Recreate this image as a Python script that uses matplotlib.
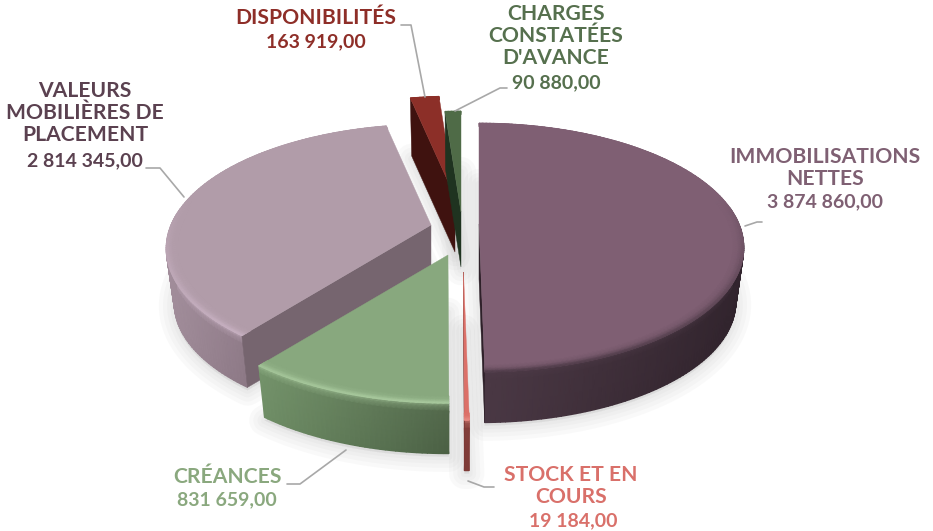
import numpy as np
import matplotlib
matplotlib.use("Agg")
import matplotlib.pyplot as plt
from matplotlib.colors import to_rgb

# data, clockwise from the top
labels = ["IMMOBILISATIONS\nNETTES", "STOCK ET EN\nCOURS", "CRÉANCES",
          "VALEURS\nMOBILIÈRES DE\nPLACEMENT", "DISPONIBILITÉS",
          "CHARGES\nCONSTATÉES\nD'AVANCE"]
values = [3874860.0, 19184.0, 831659.0, 2814345.0, 163919.0, 90880.0]

# styles per slice
top_col = ["#7f5f73", "#dc7068", "#88a87e", "#b19ca9", "#8c2f28", "#4f6b47"]
side_l = ["#4a3844", "#7d3a36", "#6f8e66", "#a08c99", "#6a231e", "#3b5236"]
side_r = ["#30232c", "#7d3a36", "#4b6044", "#8c7885", "#6a231e", "#3b5236"]
cut_col = ["#2e2029", "#7d3a36", "#5a7552", "#76656f", "#3f120f", "#1f3320"]
bevel_col = ["#4e3b48", "#e88c84", "#aacb9f", "#cdb6c8", "#a03a32", "#607f56"]
text_col = ["#7f6073", "#d9706a", "#8aa87e", "#5b4150", "#8e2e28", "#56704e"]
off_x = [24, 8.5, -7, -24, 0, 6]
off_y = [0, 48, 31, 1, -27, -12]
text_x = [825, 571, 228, 85, 316, 556]
text_y = [168, 486, 477, 113, 18, 36]
num_x = [825, 573, 227, 85, 316, 556]
num_y = [202, 521, 500, 161, 42, 83]

cx, cy = 455, 224
rx, ry = 260, 120
persp = 0.19
depth = 55
bottom_scale = 0.97


def project(theta, r, ox, oy, scale=1.0, dz=0.0):
    px = r * np.sin(theta)
    py = r * np.cos(theta)
    s = 1.0 / (1.0 + persp * py)
    return cx + ox + rx * px * s * scale, cy + oy - ry * py * s * scale + dz


def mix(a, b, t):
    a = np.array(to_rgb(a))
    b = np.array(to_rgb(b))
    return a + (b - a) * t


fig = plt.figure(figsize=(9.33, 5.31), dpi=100)
ax = fig.add_axes([0, 0, 1, 1])
ax.set_xlim(0, 933)
ax.set_ylim(531, 0)
ax.axis("off")

ang = np.cumsum([0] + values) / sum(values) * 2 * np.pi
draw_order = [4, 5, 3, 0, 2, 1]

# soft shadow under every slice
for i in draw_order:
    t = np.linspace(ang[i], ang[i + 1], 80)
    x, y = project(t, 1.0, off_x[i], off_y[i], bottom_scale, depth)
    x = np.r_[cx + off_x[i], x]
    y = np.r_[cy + off_y[i] + depth, y]
    for lw in (22, 16, 10, 5):
        ax.fill(x, y + 3, fc="#9a9a9a", ec="#8a8a8a", lw=lw, alpha=0.045, joinstyle="round")

for i in draw_order:
    a0, a1 = ang[i], ang[i + 1]
    ox, oy = off_x[i], off_y[i]
    t = np.linspace(a0, a1, max(6, int((a1 - a0) * 60)))

    # outer wall, only the part that faces the viewer
    wall = t[np.cos(t) < 0.15]
    if len(wall) > 1:
        x0 = project(wall, 1.0, ox, oy)[0]
        frac = np.array([0.0, 0.06, 0.16, 1.0])
        X = np.zeros((len(frac), len(wall)))
        Y = np.zeros_like(X)
        C = np.zeros((len(frac), len(wall), 3))
        for j, f in enumerate(frac):
            xt, yt = project(wall, 1.0, ox, oy)
            xb, yb = project(wall, 1.0, ox, oy, bottom_scale, depth)
            X[j] = xt + (xb - xt) * f
            Y[j] = yt + (yb - yt) * f
            for k in range(len(wall)):
                g = (x0[k] - x0.min()) / max(np.ptp(x0), 1)
                c = mix(side_l[i], side_r[i], g)
                C[j, k] = c + (np.array(to_rgb(bevel_col[i])) - c) * [0.6, 0.35, 0.08, 0.0][j]
        ax.pcolormesh(X, Y, C, shading="gouraud")

    # cut faces that look at the viewer
    faces = []
    if np.sin(a0) < 0:
        faces.append(a0)
    if np.sin(a1) > 0:
        faces.append(a1)
    for a in faces:
        xt, yt = project(a, 1.0, ox, oy)
        xb, yb = project(a, 1.0, ox, oy, bottom_scale, depth)
        ax.fill([cx + ox, xt, xb, cx + ox], [cy + oy, yt, yb, cy + oy + depth],
                fc=cut_col[i], ec=cut_col[i], lw=0.3)

    # top face
    x, y = project(t, 1.0, ox, oy)
    ax.fill(np.r_[cx + ox, x], np.r_[cy + oy, y], fc=top_col[i], ec=top_col[i], lw=0.3)

    # bevel along the rim of the top face
    radii = np.array([0.96, 0.98, 0.992, 1.0])
    weight = [0.0, 0.25, 0.7, 1.0]
    X = np.zeros((len(radii), len(t)))
    Y = np.zeros_like(X)
    C = np.zeros((len(radii), len(t), 3))
    front = np.clip(0.25 - np.cos(t), 0, None) / 1.25
    for j, r in enumerate(radii):
        X[j], Y[j] = project(t, r, ox, oy)
        for k in range(len(t)):
            C[j, k] = mix(top_col[i], bevel_col[i], weight[j] * front[k])
    ax.pcolormesh(X, Y, C, shading="gouraud")

# leader lines
lead_x = [[745, 757, 762], [468, 484, 494], [287, 300, 346], [146, 160, 184],
          [401, 411, 425], [455, 500, 507]]
lead_y = [[226, 222, 222], [481, 487, 487], [484, 484, 450], [168, 168, 197],
          [25, 25, 97], [111, 88, 88]]
for xs, ys in zip(lead_x, lead_y):
    ax.plot(xs, ys, color="#a8a8a8", lw=1.2, solid_capstyle="round")

# labels, the numbers are a bit narrower than the names in the original
for i in range(len(values)):
    num = f"{values[i]:,.2f}".replace(",", " ").replace(".", ",")
    ax.text(text_x[i], text_y[i], labels[i], ha="center", va="center",
            family="Lato", weight="bold", fontsize=15.2, color=text_col[i],
            linespacing=1.12)
    ax.text(num_x[i], num_y[i], num, ha="center", va="center",
            family="Lato", weight="bold", fontsize=14, color=text_col[i])

fig.savefig("out.png", dpi=100)
